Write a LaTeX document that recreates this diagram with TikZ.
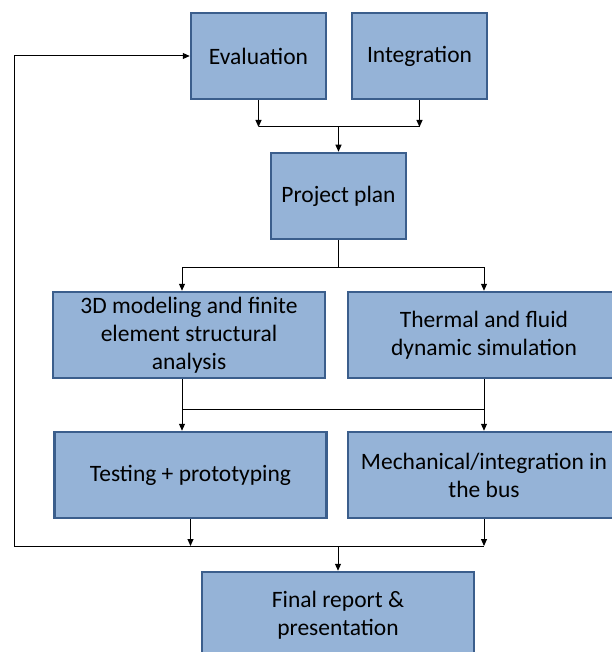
\documentclass[tikz,border=0pt]{standalone}
\usepackage{fontspec}
\setmainfont{Carlito}
\usetikzlibrary{arrows.meta}
\definecolor{boxfill}{HTML}{95B3D7}
\definecolor{boxline}{HTML}{3B5E8C}
\begin{document}
\begin{tikzpicture}[x=1pt,y=-1pt,
  box/.style={draw=boxline, fill=boxfill, line width=2.5pt, minimum width=#1,
    minimum height=86pt, inner sep=0pt, align=center,
    font=\fontsize{23.5}{28}\selectfont, text=black},
  conn/.style={line width=1pt, -{Triangle[length=7pt,width=6pt]}},
  plain/.style={line width=1pt}]
\useasboundingbox (0,0) rectangle (611,652);
\node[box=135pt] (eval) at (258.5,56) {Evaluation};
\node[box=135pt] (integ) at (419.5,56) {Integration};
\node[box=135pt] (plan) at (338.5,196) {Project plan};
\node[box=272pt] (model) at (189,335) {3D modeling and finite\\element structural\\analysis};
\node[box=272pt] (thermal) at (484,335) {Thermal and fluid\\dynamic simulation};
\node[box=272pt] (test) at (190.5,475) {Testing + prototyping};
\node[box=272pt] (mech) at (484,475) {Mechanical/integration in\\the bus};
\node[box=272pt] (final) at (338,615) {Final report \&\\presentation};
% junctions
\coordinate (j1) at (339,127);
\coordinate (a1) at (182,267);
\coordinate (a2) at (484,267);
\coordinate (b1) at (182,409);
\coordinate (b2) at (484,409);
\coordinate (c0) at (14,546);
% top merge
\draw[conn] (eval.south) -- (eval.south |- j1);
\draw[conn] (integ.south) -- (integ.south |- j1);
\draw[plain] (eval.south |- j1) -- (integ.south |- j1);
\draw[conn] (plan.north |- j1) -- (plan.north);
% split after plan
\draw[plain] (plan.south) -- (plan.south |- a1);
\draw[plain] (a1) -- (a2);
\draw[conn] (a1) -- (a1 |- model.north);
\draw[conn] (a2) -- (thermal.north);
% second merge/split
\draw[plain] (b1 |- model.south) -- (b1);
\draw[plain] (thermal.south) -- (b2);
\draw[plain] (b1) -- (b2);
\draw[conn] (b1) -- (b1 |- test.north);
\draw[conn] (b2) -- (mech.north);
% bottom merge and feedback
\draw[conn] (test.south) -- (test.south |- c0);
\draw[conn] (mech.south) -- (mech.south |- c0);
\draw[plain] (c0) -- (mech.south |- c0);
\draw[conn] (final.north |- c0) -- (final.north);
\draw[conn] (c0) -- (c0 |- eval.west) -- (eval.west);
\end{tikzpicture}
\end{document}
